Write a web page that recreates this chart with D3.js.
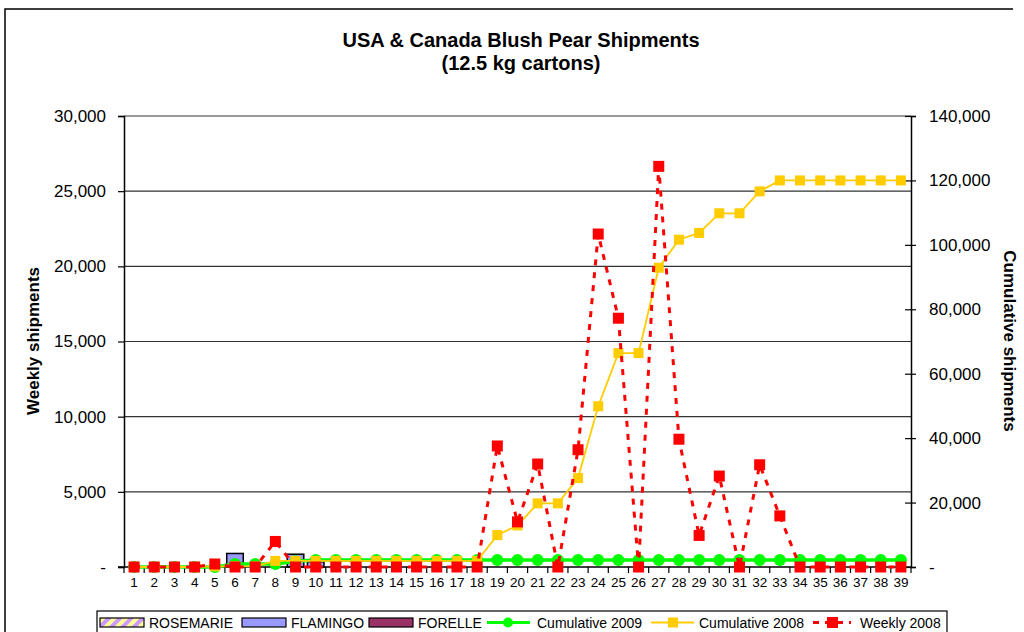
<!DOCTYPE html>
<html>
<head>
<meta charset="utf-8">
<script src="https://cdn.jsdelivr.net/npm/d3@7"></script>
<style>
  body { margin: 0; background: #fff; }
  svg { display: block; font-family: "Liberation Sans", Arial, sans-serif; }
</style>
</head>
<body>
<div id="chart"></div>
<script>
// weeks (categories)
var weeks = ["1","2","3","4","5","6","7","8","9","10","11","12","13","14","15","16","17","18","19","20",
             "21","22","23","24","25","26","27","28","29","30","31","32","33","34","35","36","37","38","39"];

// weekly 2009 shipments by variety (stacked bars)
var rosemarie = [0,0,0,0,0,0,0,0,0,0, 0,0,0,0,0,0,0,0,0,0, 0,0,0,0,0,0,0,0,0,0, 0,0,0,0,0,0,0,0,0];
var flamingo  = [0,0,0,0,0,900,0,0,850,350, 0,0,0,0,0,0,0,0,0,0, 0,0,0,0,0,0,0,0,0,0, 0,0,0,0,0,0,0,0,0];
var forelle   = [0,0,0,0,0,0,0,0,0,0, 0,0,0,0,0,0,0,0,0,0, 0,0,0,0,0,0,0,0,0,0, 0,0,0,0,0,0,0,0,0];

// cumulative (right axis)
var cum2009 = [0,0,0,0,0,900,900,900,1750,2200, 2200,2200,2200,2200,2200,2200,2200,2200,2200,2200,
               2200,2200,2200,2200,2200,2200,2200,2200,2200,2200, 2200,2200,2200,2200,2200,2200,2200,2200,2200];
var cum2008 = [0,0,0,0,200,200,200,1900,1900,1900, 1900,1900,1900,1900,1900,1900,1900,1900,9900,12900,
               19750,19750,27600,49900,66400,66400,92900,101600,103700,109800, 109800,116600,120000,120000,120000,120000,120000,120000,120000];

// weekly 2008 (left axis)
var weekly2008 = [0,0,0,0,200,0,0,1700,0,0, 0,0,0,0,0,0,0,0,8050,3000,
                  6850,0,7800,22150,16550,0,26650,8500,2100,6050, 0,6800,3400,0,0,0,0,0,0];

var leftTicks  = [0, 5000, 10000, 15000, 20000, 25000, 30000];
var rightTicks = [0, 20000, 40000, 60000, 80000, 100000, 120000, 140000];

var w = 1024, h = 632;
var plot = {left: 124, right: 911, top: 116, bottom: 567};

var svg = d3.select("#chart").append("svg")
            .attr("width", w)
            .attr("height", h);

// hatched fill for Rosemarie
var defs = svg.append("defs");
var pat = defs.append("pattern")
              .attr("id", "hatch")
              .attr("patternUnits", "userSpaceOnUse")
              .attr("width", 8).attr("height", 8)
              .attr("patternTransform", "rotate(45)");
pat.append("rect").attr("width", 8).attr("height", 8).attr("fill", "#FFFF99");
pat.append("rect").attr("width", 4).attr("height", 8).attr("fill", "#CC99FF");

// outer frame (left and top edges visible)
svg.append("path")
   .attr("d", "M5,640 V9 H1013")
   .attr("fill", "none")
   .attr("stroke", "#000")
   .attr("stroke-width", 1.5);

var x = d3.scaleBand()
          .domain(weeks)
          .range([plot.left, plot.right])
          .paddingInner(0.18)
          .paddingOuter(0.09);
var xc = function(i) { return x(weeks[i]) + x.bandwidth() / 2; };

var yL = d3.scaleLinear().domain([0, 30000]).range([plot.bottom, plot.top]);
var yR = d3.scaleLinear().domain([0, 140000]).range([plot.bottom, plot.top]);

var fmt = function(d) { return d === 0 ? "-" : d3.format(",")(d); };

// grid lines
svg.append("g")
   .selectAll("line")
   .data(leftTicks.filter(function(d) { return d > 0; }))
   .enter().append("line")
   .attr("x1", plot.left).attr("x2", plot.right)
   .attr("y1", function(d) { return yL(d); })
   .attr("y2", function(d) { return yL(d); })
   .attr("stroke", "#333")
   .attr("stroke-width", 1.2);

// stacked bars
var stackData = weeks.map(function(wk, i) {
    return {week: wk, ROSEMARIE: rosemarie[i], FLAMINGO: flamingo[i], FORELLE: forelle[i]};
});
var series = d3.stack().keys(["ROSEMARIE", "FLAMINGO", "FORELLE"])(stackData);
var barFill = {ROSEMARIE: "url(#hatch)", FLAMINGO: "#9999FF", FORELLE: "#993366"};

svg.append("g")
   .selectAll("g")
   .data(series)
   .enter().append("g")
   .attr("fill", function(s) { return barFill[s.key]; })
   .selectAll("rect")
   .data(function(s) { return s.filter(function(d) { return d[1] - d[0] > 0; }); })
   .enter().append("rect")
   .attr("x", function(d) { return x(d.data.week); })
   .attr("width", x.bandwidth())
   .attr("y", function(d) { return yL(d[1]); })
   .attr("height", function(d) { return yL(d[0]) - yL(d[1]); })
   .attr("stroke", "#000")
   .attr("stroke-width", 1.5);

// axes
var axL = svg.append("g")
             .attr("transform", "translate(" + plot.left + ",0)")
             .call(d3.axisLeft(yL).tickValues(leftTicks).tickFormat(fmt).tickSize(6).tickPadding(12));
var axR = svg.append("g")
             .attr("transform", "translate(" + plot.right + ",0)")
             .call(d3.axisRight(yR).tickValues(rightTicks).tickFormat(fmt).tickSize(5).tickPadding(13));
axR.selectAll(".tick line").attr("x1", -6);
var axB = svg.append("g")
             .attr("transform", "translate(0," + plot.bottom + ")")
             .call(d3.axisBottom(x).tickSize(0).tickPadding(10));

[axL, axR, axB].forEach(function(a) {
    a.select(".domain").attr("stroke", "#000").attr("stroke-width", 1.5);
    a.selectAll(".tick line").attr("stroke", "#000").attr("stroke-width", 1.2);
    a.selectAll("text").attr("fill", "#000").attr("font-family", "Liberation Sans, Arial, sans-serif");
});
axL.selectAll("text").attr("font-size", 17);
axR.selectAll("text").attr("font-size", 17);
axB.selectAll("text").attr("font-size", 13.5);
axB.select(".domain").remove();
svg.append("line")
   .attr("x1", plot.left - 6).attr("x2", plot.right)
   .attr("y1", plot.bottom).attr("y2", plot.bottom)
   .attr("stroke", "#000").attr("stroke-width", 1.5);

// x ticks at band boundaries
svg.append("g")
   .selectAll("line")
   .data(weeks.concat(["end"]))
   .enter().append("line")
   .attr("x1", function(d, i) { return i < weeks.length ? x(d) - x.step() * x.paddingInner() / 2 : plot.right; })
   .attr("x2", function(d, i) { return i < weeks.length ? x(d) - x.step() * x.paddingInner() / 2 : plot.right; })
   .attr("y1", plot.bottom)
   .attr("y2", plot.bottom + 6)
   .attr("stroke", "#000")
   .attr("stroke-width", 1.2);

// cumulative 2009 (green)
var lineR = function(vals) {
    return d3.line().x(function(d, i) { return xc(i); }).y(function(d) { return yR(d); })(vals);
};
svg.append("path")
   .attr("d", lineR(cum2009))
   .attr("fill", "none")
   .attr("stroke", "#00FF00")
   .attr("stroke-width", 3.5);
svg.append("g")
   .selectAll("circle")
   .data(cum2009)
   .enter().append("circle")
   .attr("cx", function(d, i) { return xc(i); })
   .attr("cy", function(d) { return yR(d); })
   .attr("r", 6)
   .attr("fill", "#00FF00");

// cumulative 2008 (yellow)
svg.append("path")
   .attr("d", lineR(cum2008))
   .attr("fill", "none")
   .attr("stroke", "#FFCC00")
   .attr("stroke-width", 1.8);
svg.append("g")
   .selectAll("rect")
   .data(cum2008)
   .enter().append("rect")
   .attr("x", function(d, i) { return xc(i) - 5; })
   .attr("y", function(d) { return yR(d) - 5; })
   .attr("width", 10).attr("height", 10)
   .attr("fill", "#FFCC00");

// weekly 2008 (red dashed)
svg.append("path")
   .attr("d", d3.line().x(function(d, i) { return xc(i); }).y(function(d) { return yL(d); })(weekly2008))
   .attr("fill", "none")
   .attr("stroke", "#FF0000")
   .attr("stroke-width", 3)
   .attr("stroke-dasharray", "6,7");
svg.append("g")
   .selectAll("rect")
   .data(weekly2008)
   .enter().append("rect")
   .attr("x", function(d, i) { return xc(i) - 5.5; })
   .attr("y", function(d) { return yL(d) - 5.5; })
   .attr("width", 11).attr("height", 11)
   .attr("fill", "#FF0000");

// titles
var title = svg.append("text")
               .attr("x", 521).attr("y", 47)
               .attr("text-anchor", "middle")
               .attr("font-size", 20)
               .attr("font-weight", "bold");
title.append("tspan").attr("x", 521).text("USA & Canada Blush Pear Shipments");
title.append("tspan").attr("x", 521).attr("dy", 23).text("(12.5 kg cartons)");

svg.append("text")
   .attr("transform", "translate(39,341) rotate(-90)")
   .attr("text-anchor", "middle")
   .attr("font-size", 17)
   .attr("font-weight", "bold")
   .text("Weekly shipments");
svg.append("text")
   .attr("transform", "translate(1004,341) rotate(90)")
   .attr("text-anchor", "middle")
   .attr("font-size", 17)
   .attr("font-weight", "bold")
   .text("Cumulative shipments");

// legend
var lg = svg.append("g");
lg.append("rect")
  .attr("x", 97).attr("y", 611)
  .attr("width", 850).attr("height", 30)
  .attr("fill", "#fff")
  .attr("stroke", "#000")
  .attr("stroke-width", 1.2);

var swatches = [
    {label: "ROSEMARIE", fill: "url(#hatch)", x: 100},
    {label: "FLAMINGO", fill: "#9999FF", x: 242},
    {label: "FORELLE", fill: "#993366", x: 369}
];
swatches.forEach(function(s) {
    lg.append("rect").attr("x", s.x).attr("y", 618).attr("width", 44).attr("height", 9)
      .attr("fill", s.fill).attr("stroke", "#000").attr("stroke-width", 1.2);
    lg.append("text").attr("x", s.x + 49).attr("y", 628).attr("font-size", 14).text(s.label);
});

lg.append("line").attr("x1", 487).attr("x2", 530).attr("y1", 622.5).attr("y2", 622.5)
  .attr("stroke", "#00FF00").attr("stroke-width", 3);
lg.append("circle").attr("cx", 508).attr("cy", 622.5).attr("r", 5).attr("fill", "#00FF00");
lg.append("text").attr("x", 537).attr("y", 628).attr("font-size", 14).text("Cumulative 2009");

lg.append("line").attr("x1", 651).attr("x2", 694).attr("y1", 622.5).attr("y2", 622.5)
  .attr("stroke", "#FFCC00").attr("stroke-width", 1.8);
lg.append("rect").attr("x", 668).attr("y", 617.5).attr("width", 10).attr("height", 10).attr("fill", "#FFCC00");
lg.append("text").attr("x", 699).attr("y", 628).attr("font-size", 14).text("Cumulative 2008");

lg.append("line").attr("x1", 813).attr("x2", 851).attr("y1", 622.5).attr("y2", 622.5)
  .attr("stroke", "#FF0000").attr("stroke-width", 3).attr("stroke-dasharray", "6,6");
lg.append("rect").attr("x", 827).attr("y", 617).attr("width", 11).attr("height", 11).attr("fill", "#FF0000");
lg.append("text").attr("x", 860).attr("y", 628).attr("font-size", 14).text("Weekly 2008");
</script>
</body>
</html>
